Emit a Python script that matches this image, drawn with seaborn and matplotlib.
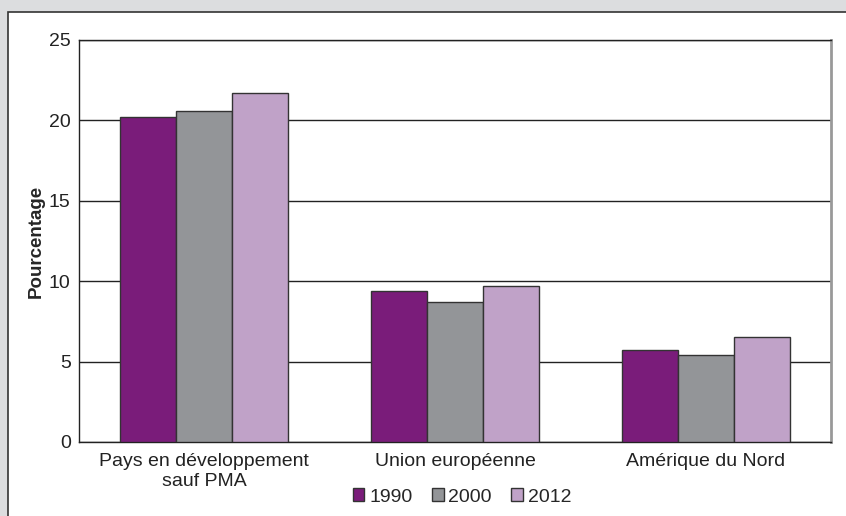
import matplotlib
matplotlib.use("Agg")
import matplotlib.pyplot as plt
from matplotlib.patches import Rectangle
import seaborn as sns
import pandas as pd
from matplotlib import font_manager

categories = ["Pays en développement\nsauf PMA", "Union européenne", "Amérique du Nord"]
years = ["1990", "2000", "2012"]
v1990 = [20.2, 9.4, 5.7]
v2000 = [20.6, 8.7, 5.4]
v2012 = [21.7, 9.7, 6.5]
colors = ["#7a1c7a", "#939598", "#c0a2c8"]

rows = []
for y, vals in zip(years, [v1990, v2000, v2012]):
    for c, v in zip(categories, vals):
        rows.append({"cat": c, "year": y, "val": v})
df = pd.DataFrame(rows)

sns.set_style("white")
names = {f.name for f in font_manager.fontManager.ttflist}
fam = "Liberation Sans Narrow" if "Liberation Sans Narrow" in names else "Liberation Sans"
plt.rcParams["font.family"] = [fam, "DejaVu Sans"]

fig = plt.figure(figsize=(8.46, 5.16), dpi=100)
fig.patch.set_facecolor("#dcdddf")
W, H = 846, 516
fig.patches.append(Rectangle((8 / W, -0.01), (W - 8) / W + 0.01, (H - 12) / H + 0.01, transform=fig.transFigure,
                             facecolor="white", edgecolor="#333333", linewidth=1.2, zorder=-5))

ax = fig.add_axes([79 / W, (H - 442) / H, (831 - 79) / W, (442 - 40) / H])
ax.set_zorder(2)
ax.set_facecolor("white")
sns.barplot(data=df, x="cat", y="val", hue="year", palette=colors, width=0.67, saturation=1,
            edgecolor="#333333", linewidth=1.0, ax=ax, zorder=3, legend=True)
for b in ax.patches:
    b.set_zorder(3)

ax.set_ylim(0, 25)
ax.set_yticks([0, 5, 10, 15, 20, 25])
ax.yaxis.grid(True, color="#222222", linewidth=1.0)
ax.set_axisbelow(True)
ax.tick_params(axis="both", length=0, labelsize=14, colors="#222222")
ax.tick_params(axis="y", pad=6)
ax.tick_params(axis="x", pad=8)
ax.set_xlabel("")
ax.set_ylabel("Pourcentage", fontsize=13.5, fontweight="bold", family=["Liberation Sans", "DejaVu Sans"], labelpad=3)
for s in ["left", "top", "bottom"]:
    ax.spines[s].set_color("#222222")
    ax.spines[s].set_linewidth(1.0)
ax.spines["right"].set_color("#999999")
ax.spines["right"].set_linewidth(2.0)

handles, labels = ax.get_legend_handles_labels()
ax.legend(handles, labels, loc="center", bbox_to_anchor=(462 / W, (H - 497) / H), bbox_transform=fig.transFigure,
          ncol=3, frameon=False, fontsize=14, handlelength=0.6, handleheight=0.6,
          handletextpad=0.25, columnspacing=1.0)

fig.savefig("out.png", dpi=100, facecolor=fig.get_facecolor())
